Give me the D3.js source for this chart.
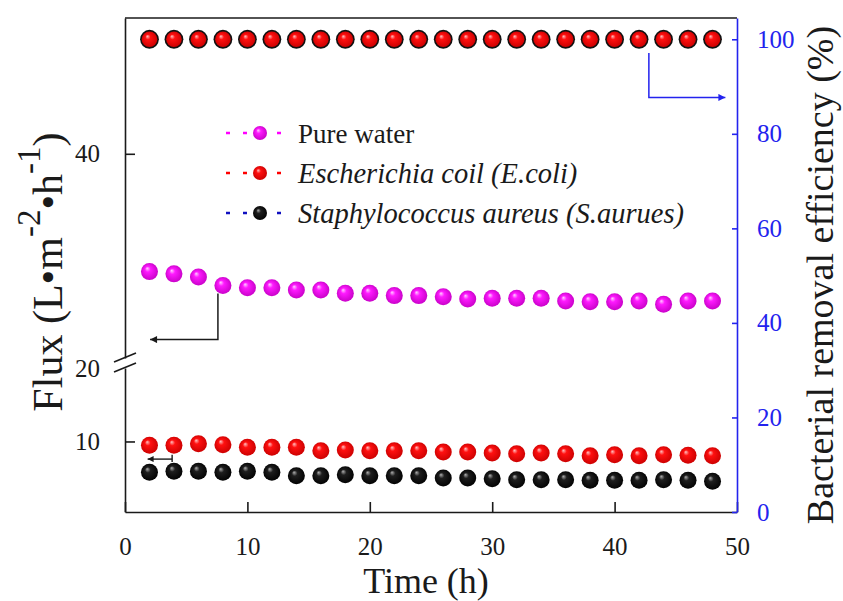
<!DOCTYPE html>
<html>
<head>
<meta charset="utf-8">
<script src="https://cdn.jsdelivr.net/npm/d3@7"></script>
<style>
  body { margin: 0; background: #fff; }
  svg { display: block; }
  text { font-family: "Liberation Serif", "Times New Roman", serif; }
</style>
</head>
<body>
<div id="chart"></div>
<script>
// data
const time = [2, 4, 6, 8, 10, 12, 14, 16, 18, 20, 22, 24, 26, 28, 30, 32, 34, 36, 38, 40, 42, 44, 46, 48];
const pureWaterFlux = [28.46, 28.24, 27.94, 27.09, 26.89, 26.89, 26.67, 26.67, 26.34, 26.34, 26.11, 26.11,
  26.01, 25.78, 25.85, 25.85, 25.85, 25.59, 25.52, 25.52, 25.59, 25.26, 25.59, 25.59];
const eColiFlux = [9.48, 9.48, 9.70, 9.56, 9.21, 9.21, 9.21, 8.74, 8.84, 8.74, 8.74, 8.74,
  8.57, 8.57, 8.43, 8.34, 8.43, 8.34, 8.06, 8.20, 8.06, 8.20, 8.12, 8.06];
const sAureusFlux = [5.80, 5.94, 5.94, 5.80, 5.94, 5.80, 5.34, 5.34, 5.48, 5.34, 5.34, 5.34,
  5.03, 5.03, 4.93, 4.80, 4.80, 4.80, 4.71, 4.71, 4.71, 4.80, 4.71, 4.58];
const eColiRemoval = [100, 100, 100, 100, 100, 100, 100, 100, 100, 100, 100, 100,
  100, 100, 100, 100, 100, 100, 100, 100, 100, 100, 100, 100];
const sAureusRemoval = [100, 100, 100, 100, 100, 100, 100, 100, 100, 100, 100, 100,
  100, 100, 100, 100, 100, 100, 100, 100, 100, 100, 100, 100];

const xTicks = [0, 10, 20, 30, 40, 50];
const fluxTicksLow = [10, 20];
const fluxTicksHigh = [40];
const removalTicks = [0, 20, 40, 60, 80, 100];
const legendLabels = ['Pure water', 'Escherichia coil (E.coli)', 'Staphylococcus aureus (S.aurues)'];

// set the dimensions and margins of the graph
const W = 843, H = 601;
const margin = { top: 18, right: 106, bottom: 89, left: 125 };
const pLeft = margin.left, pRight = W - margin.right, pTop = margin.top, pBottom = H - margin.bottom;
const ink = '#1a1a1a', blue = '#2323ee';

const svg = d3.select('#chart').append('svg').attr('width', W).attr('height', H);

// scales (left axis is broken at 20)
const x = d3.scaleLinear().domain([0, 50]).range([pLeft, pRight]);
const yLow = d3.scaleLinear().domain([0.4, 20]).range([pBottom, 368]);
const yUp = d3.scaleLinear().domain([20, 53.3]).range([358, pTop]);
const yR = d3.scaleLinear().domain([0, 104.5]).range([pBottom, pTop]);

// sphere gradients
const defs = svg.append('defs');
function sphere(id, light, mid, dark) {
  const g = defs.append('radialGradient').attr('id', id)
    .attr('cx', '50%').attr('cy', '50%').attr('r', '55%').attr('fx', '36%').attr('fy', '30%');
  g.append('stop').attr('offset', '0%').attr('stop-color', light);
  g.append('stop').attr('offset', '30%').attr('stop-color', mid);
  g.append('stop').attr('offset', '100%').attr('stop-color', dark);
}
sphere('ballPink', '#ffd0ff', '#ff1aff', '#c400c4');
sphere('ballRed', '#ffc4c4', '#ff1010', '#c80000');
sphere('ballBlack', '#b0b0b0', '#1e1e1e', '#000000');

function arrowMarker(id, color, w, h) {
  defs.append('marker').attr('id', id)
    .attr('viewBox', '0 0 10 10').attr('refX', 10).attr('refY', 5)
    .attr('markerUnits', 'userSpaceOnUse')
    .attr('markerWidth', w).attr('markerHeight', h).attr('orient', 'auto')
    .append('path').attr('d', 'M0,0L10,5L0,10Z').attr('fill', color);
}
arrowMarker('arrBlack', ink, 13, 7);
arrowMarker('arrSmall', ink, 9, 6);
arrowMarker('arrBlue', blue, 14, 7);

// X axis
const gx = svg.append('g').attr('transform', `translate(0, ${pBottom})`)
  .call(d3.axisBottom(x).tickValues(xTicks).tickSize(-10).tickSizeOuter(0).tickPadding(25));
gx.selectAll('path, line').attr('stroke', ink).attr('stroke-width', 1.6);
gx.selectAll('text').attr('font-size', 25).attr('fill', ink)
  .attr('font-family', '"Liberation Serif", serif');

// left axis, lower part
const gl = svg.append('g').attr('transform', `translate(${pLeft}, 0)`)
  .call(d3.axisLeft(yLow).tickValues(fluxTicksLow).tickSize(-10).tickSizeOuter(0).tickPadding(25));
gl.selectAll('.tick').filter(d => d === 20).select('line').remove();
// left axis, upper part
const gu = svg.append('g').attr('transform', `translate(${pLeft}, 0)`)
  .call(d3.axisLeft(yUp).tickValues(fluxTicksHigh).tickSize(-10).tickSizeOuter(0).tickPadding(25));
[gl, gu].forEach(g => {
  g.selectAll('path, line').attr('stroke', ink).attr('stroke-width', 1.6);
  g.selectAll('text').attr('font-size', 25).attr('fill', ink)
    .attr('font-family', '"Liberation Serif", serif');
});

// break marks
[yLow(20), yUp(20)].forEach(yy => {
  svg.append('line')
    .attr('x1', pLeft - 11).attr('y1', yy + 4)
    .attr('x2', pLeft + 11).attr('y2', yy - 5)
    .attr('stroke', ink).attr('stroke-width', 1.6);
});

// top frame
svg.append('line').attr('x1', pLeft).attr('x2', pRight).attr('y1', pTop).attr('y2', pTop)
  .attr('stroke', ink).attr('stroke-width', 1.6);

// right axis
const gr = svg.append('g').attr('transform', `translate(${pRight}, 0)`)
  .call(d3.axisRight(yR).tickValues(removalTicks).tickSize(-5).tickSizeOuter(0).tickPadding(20));
gr.selectAll('path, line').attr('stroke', blue).attr('stroke-width', 1.6);
gr.selectAll('text').attr('font-size', 25).attr('fill', blue)
  .attr('font-family', '"Liberation Serif", serif');

// axis titles
svg.append('text').attr('x', (pLeft + pRight) / 2 - 5).attr('y', 593)
  .attr('text-anchor', 'middle').attr('font-size', 36).attr('fill', ink).text('Time (h)');

const fluxTitle = svg.append('text')
  .attr('transform', 'translate(62, 272) rotate(-90)')
  .attr('text-anchor', 'middle').attr('font-size', 42).attr('fill', ink);
fluxTitle.append('tspan').text('Flux (L\u2022m');
fluxTitle.append('tspan').attr('dy', -22).attr('font-size', 33).text('-2');
fluxTitle.append('tspan').attr('dy', 22).text('\u2022h');
fluxTitle.append('tspan').attr('dy', -22).attr('font-size', 33).text('-1');
fluxTitle.append('tspan').attr('dy', 22).text(')');

svg.append('text')
  .attr('transform', 'translate(833, 275) rotate(-90)')
  .attr('text-anchor', 'middle').attr('font-size', 38).attr('fill', ink)
  .text('Bacterial removal efficiency (%)');

// data points
function dots(values, yScale, r, fill, stroke) {
  svg.append('g').selectAll('circle')
    .data(values.map((v, i) => ({ t: time[i], v })))
    .join('circle')
    .attr('cx', d => x(d.t))
    .attr('cy', d => yScale(d.v))
    .attr('r', r)
    .attr('fill', fill)
    .attr('stroke', stroke || 'none');
}
dots(sAureusRemoval, yR, 9.4, '#111');
dots(eColiRemoval, yR, 7.8, 'url(#ballRed)');
dots(pureWaterFlux, yUp, 8.5, 'url(#ballPink)');
dots(eColiFlux, yLow, 8.5, 'url(#ballRed)');
dots(sAureusFlux, yLow, 8.5, 'url(#ballBlack)');

// annotation arrows (positions in data units)
const pwArrow = { t: 8, yTo: 21.8, tTo: 2.05 };
svg.append('path')
  .attr('d', `M${x(pwArrow.t) - 5},${yUp(pureWaterFlux[3]) + 8}V${yUp(pwArrow.yTo)}H${x(pwArrow.tTo)}`)
  .attr('fill', 'none').attr('stroke', ink).attr('stroke-width', 1.5)
  .attr('marker-end', 'url(#arrBlack)');

const smallArrow = { t: 3.85, yTop: 8.2, yBot: 7.2, yMid: 7.6, tTo: 1.85 };
svg.append('line')
  .attr('x1', x(smallArrow.t)).attr('x2', x(smallArrow.t))
  .attr('y1', yLow(smallArrow.yTop)).attr('y2', yLow(smallArrow.yBot))
  .attr('stroke', ink).attr('stroke-width', 1.4);
svg.append('line')
  .attr('x1', x(smallArrow.t)).attr('x2', x(smallArrow.tTo))
  .attr('y1', yLow(smallArrow.yMid)).attr('y2', yLow(smallArrow.yMid))
  .attr('stroke', ink).attr('stroke-width', 1.4)
  .attr('marker-end', 'url(#arrSmall)');

const removalArrow = { t: 42.8, yFrom: 97.1, yTo: 87.7, tTo: 49.05 };
svg.append('path')
  .attr('d', `M${x(removalArrow.t)},${yR(removalArrow.yFrom)}V${yR(removalArrow.yTo)}H${x(removalArrow.tTo)}`)
  .attr('fill', 'none').attr('stroke', blue).attr('stroke-width', 1.5)
  .attr('marker-end', 'url(#arrBlue)');

// legend
const legendColors = ['#ff00ff', '#ff0000', '#1010c0'];
const legendBalls = ['url(#ballPink)', 'url(#ballRed)', 'url(#ballBlack)'];
const legendItalic = [false, true, true];
const legend = svg.append('g').selectAll('g')
  .data(legendLabels)
  .join('g')
  .attr('transform', (d, i) => `translate(226, ${133 + i * 40})`);
legend.append('line')
  .attr('x1', 0).attr('x2', 55).attr('y1', 0).attr('y2', 0)
  .attr('stroke', (d, i) => legendColors[i]).attr('stroke-width', 2.5)
  .attr('stroke-dasharray', '4,13');
legend.append('circle')
  .attr('cx', 34).attr('cy', 0).attr('r', 7)
  .attr('fill', (d, i) => legendBalls[i]);
legend.append('text')
  .attr('x', 72).attr('y', 9.5)
  .attr('font-size', (d, i) => legendItalic[i] ? 28.5 : 27).attr('fill', ink)
  .attr('font-style', (d, i) => legendItalic[i] ? 'italic' : 'normal')
  .text(d => d);
</script>
</body>
</html>
